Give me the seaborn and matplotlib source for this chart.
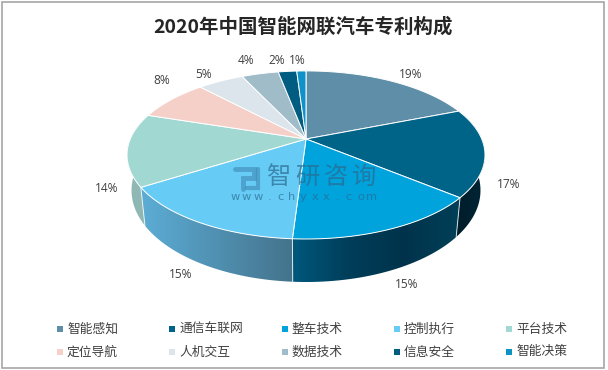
import numpy as np
import matplotlib
matplotlib.use('Agg')
import matplotlib.pyplot as plt
from matplotlib.colors import LinearSegmentedColormap
from matplotlib.patches import Polygon, Rectangle
import seaborn as sns

categories = ['智能感知', '通信车联网', '整车技术', '控制执行', '平台技术',
              '定位导航', '人机交互', '数据技术', '信息安全', '智能决策']
shares = [19, 17, 15, 15, 14, 8, 5, 4, 2, 1]
slice_colors = ['#5f8fa8', '#006388', '#00a3dc', '#66ccf5', '#a1d8d2',
                '#f5d0c8', '#dce5eb', '#9fbcc8', '#005c80', '#0f92c8']
title = '2020年中国智能网联汽车专利构成'

# side wall colours, left to right, only the slices seen from the front
side_colors = {1: ['#001c29', '#002637'],
               2: ['#00587d', '#003e5a', '#00334b', '#004058'],
               3: ['#5cadd6', '#44738c'],
               4: ['#8fb8b4', '#8fb8b4']}

# pie geometry in image pixels
CX, CY = 306, 139
RX, RY, PERSP = 175.7, 81, 0.19
LABEL_XY = [(411, 74), (509, 184), (407, 285), (181, 275), (107, 189),
            (162, 81), (204, 74), (246, 61), (277, 60), (297, 60)]

sns.set_theme(style='white')
plt.rcParams['font.family'] = ['Noto Sans CJK SC', 'DejaVu Sans']


def top_xy(angle):
    # clockwise from 12 o'clock, tilted circle with some perspective
    u, v = np.sin(angle), -np.cos(angle)
    s = 1 / (1 - PERSP * v)
    return CX + RX * u * s, CY + RY * v * s


def bottom_xy(angle):
    x, y = top_xy(angle)
    return CX + 0.975 * (x - CX), 173 + 1.09 * (y - CY)


fig = plt.figure(figsize=(6.08, 3.70), dpi=100)
ax = fig.add_axes([0, 0, 1, 1])
ax.axis('off')

ax.add_patch(Rectangle((1.5, 1.5), 602, 366, fc='white', ec='#a6a6a6', lw=1.2))

edges = 2 * np.pi * np.cumsum([0] + shares) / sum(shares)
palette = sns.color_palette(slice_colors)
ramp = np.linspace(0, 1, 256).reshape(1, -1)

# side wall, a horizontal ramp clipped to the outline of each slice
for i, stops in side_colors.items():
    arc = np.linspace(edges[i], edges[i + 1], 80)
    xt, yt = top_xy(arc)
    xb, yb = bottom_xy(arc)
    outline = np.c_[np.r_[xt, xb[::-1]], np.r_[yt, yb[::-1]]]
    shape = Polygon(outline, closed=True, transform=ax.transData, fc='none', ec='none')
    ax.add_patch(shape)
    cmap = LinearSegmentedColormap.from_list(f'side{i}', stops)
    im = ax.imshow(ramp, cmap=cmap, aspect='auto', interpolation='bilinear', zorder=2,
                   extent=[outline[:, 0].min(), outline[:, 0].max(),
                           outline[:, 1].max(), outline[:, 1].min()])
    im.set_clip_path(shape)

for a in edges[2:5]:
    ax.plot(*zip(top_xy(a), bottom_xy(a)), color='white', lw=0.7, alpha=0.8, zorder=3)

ax.set_xlim(0, 608)
ax.set_ylim(370, 0)

# top face
for i, share in enumerate(shares):
    arc = np.linspace(edges[i], edges[i + 1], 80)
    xs, ys = top_xy(arc)
    ax.fill(np.r_[CX, xs], np.r_[CY, ys], fc=palette[i], ec='white', lw=0.7, zorder=4)

# percent labels
for share, (x, y) in zip(shares, LABEL_XY):
    ax.text(x, y, f'{share}%', ha='center', va='center', fontsize=8.6,
            color='#404040', family=['Open Sans'], zorder=6)

ax.text(303, 27, title, ha='center', va='center', fontsize=14, fontweight='bold',
        color='#262626', zorder=6)

# legend, fixed pitch like the source
for i, (name, col) in enumerate(zip(categories, palette)):
    lx = 60 + 112.3 * (i % 5)
    ly = 329 + 23 * (i // 5)
    ax.scatter([lx], [ly], marker='s', s=16, color=col, lw=0, zorder=6)
    ax.text(lx + 7, ly, name, ha='left', va='center', fontsize=9.2, color='#404040', zorder=6)

# watermark, letters set one by one for the wide spacing
mark = '#2a6a90'
for k, ch in enumerate('智研咨询'):
    ax.text(279 + 28.5 * k, 177, ch, ha='center', va='center', fontsize=17.5, color=mark,
            alpha=0.7, zorder=5)
for k, ch in enumerate('www.chyxx.com'):
    ax.text(235 + 11.4 * k, 197, ch, ha='center', va='center', fontsize=8.2, color=mark,
            alpha=0.7, family=['DejaVu Sans'], zorder=5)
ax.plot([235, 254, 254, 243, 243], [169, 169, 178, 178, 189], color='#3d86b4', lw=3.5, alpha=0.6,
        solid_joinstyle='miter', zorder=5)
ax.plot([258, 258, 247], [169, 188, 188], color='#3d86b4', lw=3, alpha=0.6,
        solid_joinstyle='miter', zorder=5)

fig.savefig('out.png', dpi=100)
